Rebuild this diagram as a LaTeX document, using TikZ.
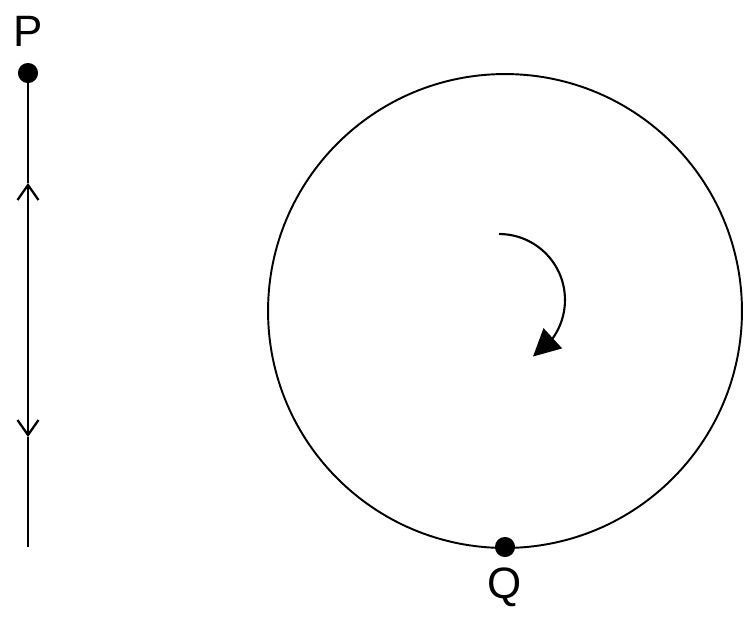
\documentclass[tikz,border=0pt]{standalone}
\usepackage{fontspec}
\setmainfont{Liberation Sans}
\usetikzlibrary{arrows.meta, bending}

\tikzset{
  dot/.style={draw, circle, fill=black, inner sep=0pt, minimum size=0.37cm},
  letter/.style={inner sep=0pt, font=\fontsize{25}{29}\selectfont}
}

\begin{document}
\begin{tikzpicture}[x=0.02cm, y=-0.02cm, line width=0.9pt]
      \useasboundingbox (0,0) rectangle (754,626);

      % Draw the points
      \node[dot] (P) at (28,73) {};
      \node[letter] (Plabel) at (28,31) {P};
      \node[dot] (Q) at (505,547) {};
      \node[letter] (Qlabel) at (505,587) {Q};

      % Draw the line
      \coordinate (A) at (28,183);
      \coordinate (B) at (28,437);
      \coordinate (E) at (28,547);
      \draw (P.center) -- (A);
      \draw[line width=1.3pt, {Straight Barb[length=0.3cm, width=0.42cm]}-{Straight Barb[length=0.3cm, width=0.42cm]}] (A) -- (B);
      \draw (B) -- (E);

      % Draw the circle
      \coordinate (O) at (505,311);
      \draw[line width=1.1pt] (O) circle[radius=4.74cm];

      % Draw the rotation arrow
      \coordinate (R) at (499,234);
      \draw[line width=1.2pt, -{Triangle[length=0.54cm, width=0.54cm, flex]}] (R) arc[start angle=90, end angle=-59, radius=1.32cm];
    \end{tikzpicture}
\end{document}
